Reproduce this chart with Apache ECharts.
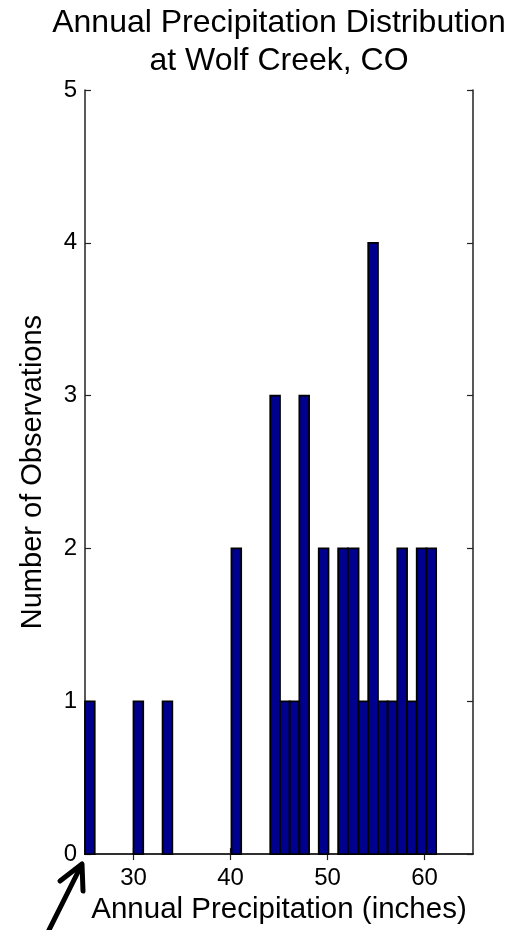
<!DOCTYPE html>
<html>
<head>
<meta charset="utf-8">
<script src="https://cdn.jsdelivr.net/npm/echarts@6/dist/echarts.min.js"></script>
<style>html,body{margin:0;padding:0;background:#fff}#c{width:518px;height:930px}</style>
</head>
<body>
<div id="c"></div>
<script>
// Histogram bins (inches) and counts
var binLeft  = [25.0, 30.0, 33.0, 40.1, 44.1, 45.1, 46.1, 47.1, 49.1, 51.1, 52.1, 53.2, 54.2, 55.2, 56.2, 57.2, 58.2, 59.2, 60.2];
var binRight = [26.0, 31.0, 34.0, 41.1, 45.1, 46.1, 47.1, 48.1, 50.1, 52.1, 53.2, 54.2, 55.2, 56.2, 57.2, 58.2, 59.2, 60.2, 61.2];
var counts   = [1, 1, 1, 2, 3, 1, 1, 3, 2, 2, 2, 1, 4, 1, 1, 2, 1, 2, 2];
var xTicks = [30, 40, 50, 60];
var yTicks = [0, 1, 2, 3, 4, 5];

var data = binLeft.map(function (l, i) { return [l, binRight[i], counts[i]]; });

var font = 'Liberation Sans, Arial, sans-serif';
var chart = echarts.init(document.getElementById('c'), null, {renderer: 'canvas'});

var axisLine = {show: true, lineStyle: {color: '#222', width: 1.5}};
var tickStyle = {show: true, inside: true, length: 6, lineStyle: {color: '#222', width: 1.2}};

chart.setOption({
  animation: false,
  backgroundColor: '#fff',
  title: {
    text: 'Annual Precipitation Distribution\nat Wolf Creek, CO',
    left: 274, top: -1, textAlign: 'center',
    textStyle: {fontFamily: font, fontSize: 32, fontWeight: 'normal', color: '#000', lineHeight: 38}
  },
  grid: {left: 85, right: 45, top: 90, bottom: 75, containLabel: false},
  xAxis: [{
    type: 'value', min: 25, max: 65, position: 'bottom',
    name: 'Annual Precipitation (inches)', nameLocation: 'middle', nameGap: 37,
    nameTextStyle: {fontFamily: font, fontSize: 29.5, color: '#000'},
    axisLine: axisLine,
    axisTick: Object.assign({customValues: xTicks}, tickStyle),
    axisLabel: {customValues: xTicks, margin: 12, fontFamily: font, fontSize: 24, color: '#000'},
    splitLine: {show: false}
  }, {
    type: 'value', min: 25, max: 65, position: 'top',
    axisLine: axisLine,
    axisTick: Object.assign({customValues: xTicks}, tickStyle),
    axisLabel: {show: false, customValues: xTicks},
    splitLine: {show: false}
  }],
  yAxis: [{
    type: 'value', min: 0, max: 5, interval: 1, position: 'left',
    name: 'Number of Observations', nameLocation: 'middle', nameGap: 38,
    nameTextStyle: {fontFamily: font, fontSize: 29, color: '#000'},
    axisLine: axisLine,
    axisTick: tickStyle,
    axisLabel: {margin: 8, fontFamily: font, fontSize: 24, color: '#000'},
    splitLine: {show: false}
  }, {
    type: 'value', min: 0, max: 5, interval: 1, position: 'right',
    axisLine: axisLine,
    axisTick: tickStyle,
    axisLabel: {show: false},
    splitLine: {show: false}
  }],
  series: [{
    type: 'custom',
    xAxisIndex: 0, yAxisIndex: 0,
    data: data,
    encode: {x: [0, 1], y: 2},
    renderItem: function (params, api) {
      var p0 = api.coord([api.value(0), api.value(2)]);
      var p1 = api.coord([api.value(1), 0]);
      return {
        type: 'rect',
        shape: {x: p0[0], y: p0[1], width: p1[0] - p0[0], height: p1[1] - p0[1]},
        style: {fill: '#00008F', stroke: '#000', lineWidth: 1.8}
      };
    }
  }],
  graphic: [
    {type: 'polyline', shape: {points: [[48, 932], [80, 868]]}, style: {stroke: '#000', lineWidth: 5, lineCap: 'round'}},
    {type: 'polyline', shape: {points: [[60, 881], [82, 864], [83, 891]]}, style: {stroke: '#000', lineWidth: 5, fill: null, lineJoin: 'round', lineCap: 'round'}}
  ]
});
</script>
</body>
</html>
